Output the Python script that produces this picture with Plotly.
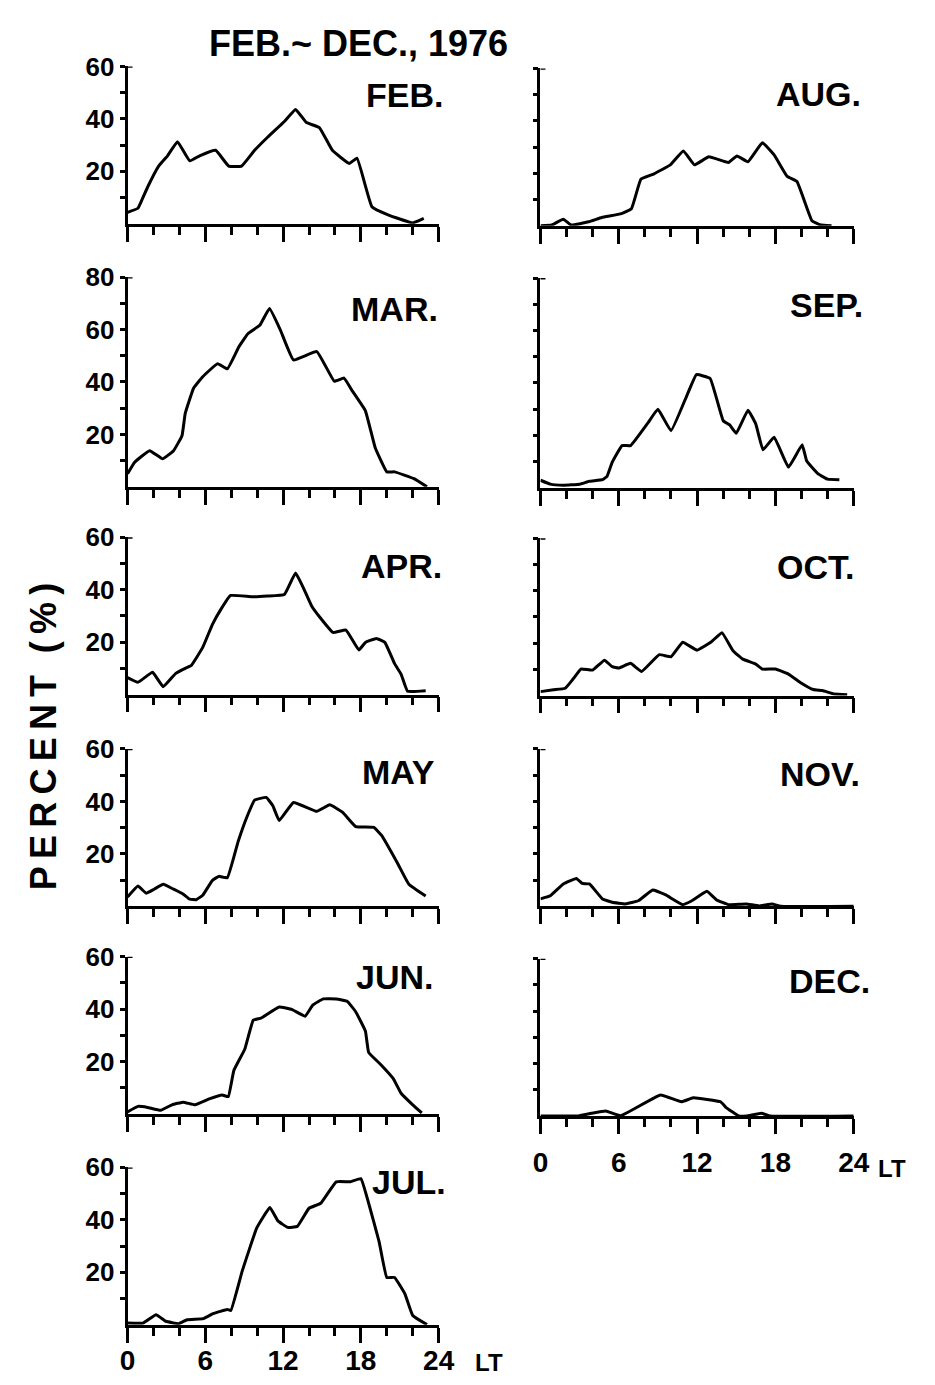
import plotly.graph_objects as go

W, H = 935, 1385

months = ["FEB.", "MAR.", "APR.", "MAY", "JUN.", "JUL.", "AUG.", "SEP.", "OCT.", "NOV.", "DEC."]

feb_h = [0, 0.8, 1.05, 1.55, 2.4, 3.1, 3.85, 4.8, 5.6, 6.8, 7.8, 8.8, 9.8, 10.8, 12.1, 12.96, 13.8, 14.8, 15.8, 17.1, 17.7, 18.85, 20.1, 22, 22.85]
feb_v = [4.3, 5.9, 8.4, 14, 22, 26, 31.3, 24, 26, 28, 22, 22, 28, 33, 39, 43.6, 38.6, 36.7, 28, 23, 25, 6.5, 3.4, 0.3, 2]

mar_h = [0, 0.55, 1.7, 2.7, 3.55, 4.2, 4.45, 5.1, 5.8, 6.95, 7.7, 8.6, 9.3, 10.2, 10.95, 11.8, 12.8, 14.6, 15.95, 16.7, 17.35, 18.35, 19.1, 20, 20.6, 22.1, 23.1]
mar_v = [5, 9.4, 13.8, 10.7, 13.8, 19.5, 28, 37.7, 42, 47, 45, 53.5, 58.5, 61.6, 68, 59.7, 48.4, 51.6, 40.3, 41.5, 36.5, 29, 15, 5.7, 5.7, 3.1, 0]

apr_h = [0, 0.8, 1.93, 2.75, 3.7, 4.45, 4.9, 5.8, 6.55, 7.2, 7.95, 9.6, 10.8, 12.1, 12.96, 13.5, 14.2, 14.85, 15.85, 16.85, 17.85, 18.35, 19.2, 19.85, 20.6, 21.1, 21.6, 23]
apr_v = [6.5, 4.7, 8.5, 3, 8, 10, 11, 18, 26.8, 32.5, 37.8, 37.3, 37.6, 38.2, 46.4, 41.4, 33.8, 29.4, 23.7, 24.6, 17, 19.9, 21.4, 19.9, 11.8, 7.8, 1.3, 1.5]

may_h = [0, 0.8, 1.43, 2.05, 2.75, 3.55, 4.3, 4.8, 5.3, 5.8, 6.55, 7.05, 7.7, 8.55, 9.3, 9.8, 10.7, 11.2, 11.7, 12.8, 14.6, 15.6, 16.6, 17.6, 19, 19.6, 20.85, 21.7, 23]
may_v = [3.5, 7.7, 5, 6.5, 8.4, 6.5, 4.6, 2.7, 2.5, 4.2, 9.9, 11.4, 10.9, 25, 35.2, 40.5, 41.5, 38.4, 32.7, 39.6, 36.2, 38.7, 35.8, 30.4, 30.1, 27, 16.2, 8.4, 3.9]

jun_h = [0, 0.8, 1.55, 2.55, 3.43, 4.3, 5.2, 6.3, 7.3, 7.77, 8.2, 9.05, 9.7, 10.3, 11.7, 12.7, 13.7, 14.3, 15.1, 16.1, 16.96, 17.6, 18.35, 18.6, 19.6, 20.5, 21.1, 22, 22.7]
jun_v = [0.8, 2.9, 2.5, 1.4, 3.5, 4.5, 3.5, 5.75, 7.25, 6.6, 16.6, 24.8, 35.8, 36.6, 40.8, 39.8, 37.3, 41.6, 43.9, 43.9, 42.9, 39, 31.6, 23.5, 18.5, 13.5, 7.9, 3.5, 0.4]

jul_h = [0, 1.2, 2.2, 2.95, 3.95, 4.6, 5.85, 6.6, 7.7, 7.97, 8.85, 9.97, 10.98, 11.6, 12.35, 13.1, 14, 14.9, 16.1, 17.2, 18, 18.6, 19.4, 20, 20.6, 21.4, 22, 23.1]
jul_v = [0.6, 0.6, 3.8, 1.3, 0.4, 1.9, 2.3, 4.2, 5.8, 5.4, 20.5, 36.9, 44.7, 39.6, 37.1, 37.5, 44.4, 46.3, 54.5, 54.5, 55.7, 46.3, 31.8, 18, 18, 11.7, 3.5, 0]

aug_h = [0, 0.87, 1.74, 2.36, 3.7, 4.7, 6.2, 6.97, 7.7, 8.7, 9.95, 10.95, 11.8, 12.9, 14.4, 15.05, 15.9, 17, 17.9, 18.9, 19.65, 20.8, 21.4, 22.3]
aug_v = [0, 0.25, 2.5, 0.25, 1.5, 3.1, 4.6, 6.5, 17.8, 19.8, 23.2, 28.5, 23.2, 26.3, 24.1, 26.6, 24.4, 31.6, 27, 18.8, 16.9, 1.9, 0.4, 0]

sep_h = [0, 0.75, 1.75, 3, 3.75, 4.75, 5.1, 5.5, 6.25, 6.9, 8.25, 9, 10, 11.25, 11.95, 13, 14, 14.5, 15, 15.9, 16.5, 17.05, 17.9, 19, 20.05, 20.4, 21.25, 22, 22.9]
sep_v = [2.9, 1.4, 1, 1.4, 2.5, 3.1, 4.4, 9.8, 16.1, 16.1, 24.9, 30, 21.8, 35.6, 43.2, 41.7, 25.6, 24, 20.8, 29.6, 24.3, 14.5, 19.3, 7.9, 16.4, 10.2, 5.4, 3.3, 3.1]

oct_h = [0, 1, 1.9, 2.5, 3.1, 4, 4.9, 5.5, 6, 6.9, 7.75, 9.1, 10, 10.9, 12, 13.1, 13.9, 14.75, 15.5, 16.5, 17, 18, 19, 20, 20.9, 21.6, 22.5, 23.5]
oct_v = [1.5, 2.2, 2.8, 6.3, 10.1, 9.7, 13.5, 11, 10.5, 12.3, 9.2, 15.6, 14.8, 20.3, 17.3, 20.5, 24, 17.1, 13.9, 12, 10.1, 10.1, 8.2, 4.7, 2.3, 1.9, 0.6, 0.3]

nov_h = [0, 0.75, 1.75, 2.75, 3.2, 3.75, 4.75, 5.5, 6.5, 7.5, 8.6, 9.6, 10.9, 11.6, 12.75, 13.5, 14.4, 15.75, 16.75, 17.75, 18.4, 24]
nov_v = [2.8, 4, 8.5, 10.6, 8.7, 8.5, 2.8, 1.5, 0.9, 2.1, 6.2, 4.3, 0.6, 2.1, 5.7, 2.4, 0.6, 0.9, 0.1, 0.9, 0, 0]

dec_h = [0, 2.9, 3.9, 5, 6.15, 9.2, 10.8, 11.7, 13.8, 14.2, 15.2, 15.8, 16.95, 17.6, 24]
dec_v = [0, 0, 1, 1.9, 0.1, 8, 5.4, 6.9, 5.4, 3.3, 0, 0, 1, 0, 0]

hours_list = [feb_h, mar_h, apr_h, may_h, jun_h, jul_h, aug_h, sep_h, oct_h, nov_h, dec_h]
values_list = [feb_v, mar_v, apr_v, may_v, jun_v, jul_v, aug_v, sep_v, oct_v, nov_v, dec_v]
y_tops = [60, 80, 60, 60, 60, 60, 60, 80, 60, 60, 60]

# layout geometry (pixels)
baselines = [211, 477, 687, 901, 1111, 1324, 213, 478, 688, 901, 1113]
col_x = {0: (122.7, 442.0), 1: (546.5, 868.0)}
px_per10 = 26.5
label_pos = [(448, 81), (443, 297), (447, 557), (440, 765), (438, 973), (452, 1180),
             (878, 80), (880, 293), (870, 558), (877, 767), (887, 977)]

FONT = "Liberation Sans, Arial, sans-serif"

fig = go.Figure()
layout = dict(
    width=W, height=H, margin=dict(l=0, r=0, t=0, b=0),
    paper_bgcolor="white", plot_bgcolor="white", showlegend=False,
    font=dict(family=FONT, color="black"),
)
annotations = []
shapes = []

for i, (hrs, vals) in enumerate(zip(hours_list, values_list)):
    col = 0 if i < 6 else 1
    n = "" if i == 0 else str(i + 1)
    x0p, x1p = col_x[col]
    base = baselines[i]
    top = base - y_tops[i] / 10 * px_per10
    xd = [x0p / W, x1p / W]
    yd = [1 - base / H, 1 - top / H]
    bottom = i in (5, 10)

    fig.add_trace(go.Scatter(x=hrs, y=vals, mode="lines",
                             line=dict(color="black", width=3, shape="spline", smoothing=0.3),
                             xaxis="x" + n, yaxis="y" + n, hoverinfo="skip"))

    ytv = list(range(10, y_tops[i] + 1, 10))
    ytt = [str(v) if (col == 0 and v % 20 == 0) else "" for v in ytv]
    layout["xaxis" + n] = dict(
        domain=xd, anchor="y" + n, range=[0, 24], showgrid=False, zeroline=False,
        showline=True, linecolor="black", linewidth=2.8,
        ticks="outside", tickvals=[0, 6, 12, 18, 24], ticklen=15, tickwidth=2.6, tickcolor="black",
        minor=dict(tickvals=[2, 4, 8, 10, 14, 16, 20, 22], ticks="outside", ticklen=8,
                   tickwidth=2.6, tickcolor="black", showgrid=False),
        showticklabels=bottom,
        tickfont=dict(size=28, family=FONT, weight="bold"),
        ticklabelstandoff=(5 if i == 10 else -6),
    )
    layout["yaxis" + n] = dict(
        domain=yd, anchor="x" + n, range=[0, y_tops[i]], showgrid=False, zeroline=False,
        showline=True, linecolor="black", linewidth=2.8,
        ticks="outside", tickvals=ytv, ticktext=ytt, ticklen=5, tickwidth=2.6, tickcolor="black",
        showticklabels=(col == 0),
        tickfont=dict(size=26, family=FONT, weight="bold"),
    )
    shapes.append(dict(type="line", xref="x" + n, yref="y" + n, xsizemode="pixel", xanchor=0,
                       x0=-5, x1=5, y0=y_tops[i], y1=y_tops[i],
                       line=dict(color="black", width=2.8)))
    lx, ly = label_pos[i]
    annotations.append(dict(text=months[i], xref="paper", yref="paper", x=lx / W, y=1 - ly / H,
                            xanchor="right", yanchor="middle", showarrow=False,
                            font=dict(size=34, family=FONT, weight="bold", color="black")))

annotations.append(dict(text="FEB.~ DEC., 1976", xref="paper", yref="paper", x=360 / W, y=1 - 29 / H,
                        xanchor="center", yanchor="middle", showarrow=False,
                        font=dict(size=36, family=FONT, weight="bold", color="black")))
ytitle = "\u2009".join("PERCENT") + "\u2009\u2009\u2009" + "\u2009".join("(%)")
annotations.append(dict(text=ytitle, xref="paper", yref="paper", x=36 / W, y=1 - 730 / H,
                        xanchor="center", yanchor="middle", showarrow=False, textangle=-90,
                        font=dict(size=36, family=FONT, weight="bold", color="black")))
annotations.append(dict(text="LT", xref="paper", yref="paper", x=494 / W, y=1 - 1362 / H,
                        xanchor="center", yanchor="middle", showarrow=False,
                        font=dict(size=24, family=FONT, weight="bold", color="black")))
annotations.append(dict(text="LT", xref="paper", yref="paper", x=907 / W, y=1 - 1166 / H,
                        xanchor="center", yanchor="middle", showarrow=False,
                        font=dict(size=24, family=FONT, weight="bold", color="black")))

layout["annotations"] = annotations
layout["shapes"] = shapes
fig.update_layout(**layout)
fig.write_html("out.html")
